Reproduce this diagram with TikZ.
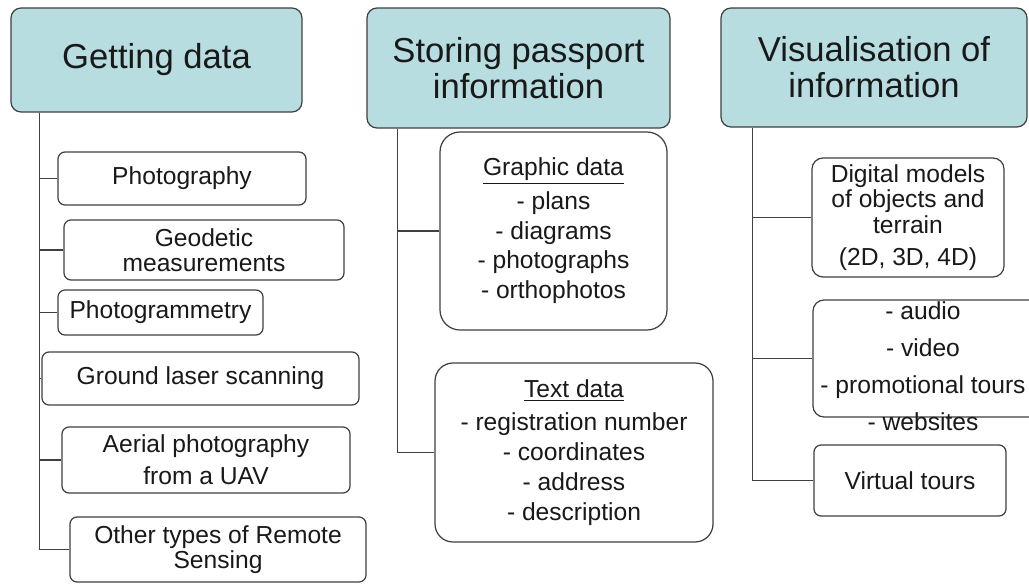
\documentclass[tikz,border=0pt]{standalone}
\usepackage{fontspec}
\setmainfont{Liberation Sans}
\usepackage{xcolor}
\definecolor{headfill}{HTML}{B7DDE1}
\definecolor{edgegray}{HTML}{404040}

\begin{document}
\begin{tikzpicture}[
    head/.style={draw=edgegray, fill=headfill, rounded corners=0.2cm, line width=0.7pt, inner sep=0pt, align=center, text=black!90, font=\fontsize{19.7}{20.5}\selectfont},
    item/.style={draw=edgegray, fill=white, rounded corners=0.14cm, line width=0.7pt, inner sep=0pt, align=center, text=black!90, font=\fontsize{14}{17}\selectfont},
    tight/.style={font=\fontsize{14}{14.2}\selectfont},
    link/.style={draw=edgegray, line width=0.7pt}
]
\path[use as bounding box, fill=white] (0,0) rectangle (20.58,-11.66);

% headers
\node[head, minimum width=5.82cm, minimum height=2.08cm] (getting) at (3.13,-1.20) {Getting data};
\node[head, minimum width=6.06cm, minimum height=2.40cm] (storing) at (10.37,-1.36) {Storing passport\\information};
\node[head, minimum width=6.12cm, minimum height=2.38cm] (visual) at (17.48,-1.35) {Visualisation of\\information};

% getting data
\node[item, minimum width=4.96cm, minimum height=1.06cm] (photo) at (3.64,-3.57) {Photography};
\node[item, tight, minimum width=5.60cm, minimum height=1.20cm] (geodetic) at (4.08,-5.00) {Geodetic\\measurements};
\node[item, minimum width=4.10cm, minimum height=0.90cm] (photogram) at (3.21,-6.25) {Photogrammetry};
\node[item, minimum width=6.34cm, minimum height=1.06cm] (ground) at (4.01,-7.57) {Ground laser scanning};
\node[item, font=\fontsize{14}{18}\selectfont, minimum width=5.76cm, minimum height=1.32cm] (aerial) at (4.12,-9.20) {Aerial photography\\from a UAV};
\node[item, tight, minimum width=5.92cm, minimum height=1.30cm] (remote) at (4.36,-10.99) {Other types of Remote\\Sensing};

% storing passport information
\node[item, rounded corners=0.4cm, minimum width=4.54cm, minimum height=3.96cm] (graphic) at (11.07,-4.62)
    {\underline{Graphic data}\\[2pt] - plans\\ - diagrams\\ - photographs\\ - orthophotos};
\node[item, rounded corners=0.36cm, minimum width=5.56cm, minimum height=3.58cm] (textdata) at (11.48,-9.05)
    {\underline{Text data}\\[2pt] - registration number\\ - coordinates\\ - address\\ - description};

% visualisation of information
\node[item, rounded corners=0.22cm, font=\fontsize{14}{14.5}\selectfont, minimum width=3.84cm, minimum height=2.38cm] (digital) at (18.16,-4.35)
    {Digital models\\of objects and\\terrain\\[4pt](2D, 3D, 4D)};
\node[item, rounded corners=0.22cm, minimum width=4.64cm, minimum height=2.34cm] (media) at (18.58,-7.17) {};
\node[align=center, inner sep=0pt, text=black!90, font=\fontsize{14}{21}\selectfont] (mediatext) at (18.46,-7.32)
    {- audio\\ - video\\ - promotional tours\\ - websites};
\node[item, minimum width=3.84cm, minimum height=1.42cm] (virtual) at (18.20,-9.61) {Virtual tours};

% connectors
\foreach \child in {photo,geodetic,photogram,ground,aerial,remote}
    \draw[link] ([xshift=0.58cm]getting.south west) |- (\child.west);
\foreach \child in {graphic,textdata}
    \draw[link] ([xshift=0.62cm]storing.south west) |- (\child.west);
\foreach \child in {digital,media,virtual}
    \draw[link] ([xshift=0.64cm]visual.south west) |- (\child.west);
\end{tikzpicture}
\end{document}
